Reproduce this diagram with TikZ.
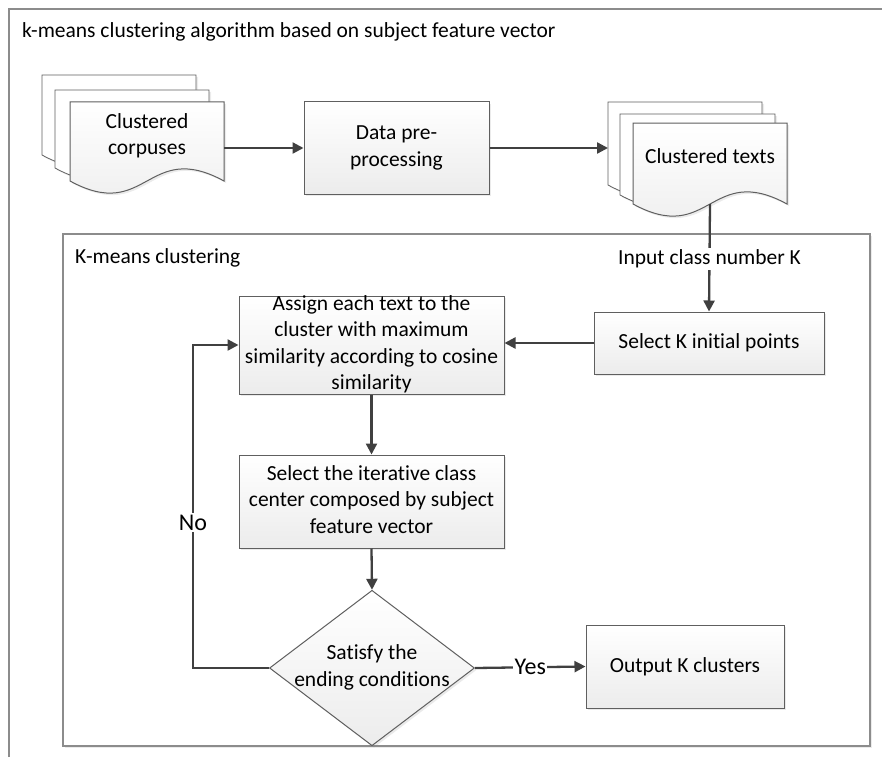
\documentclass[tikz,border=0pt]{standalone}
\usepackage{fontspec}
\setmainfont{Carlito}[Ligatures=NoCommon]
\usetikzlibrary{arrows.meta,shapes.geometric,shadows}

\definecolor{linegray}{HTML}{404040}
\definecolor{edgegray}{HTML}{5F5F5F}
\definecolor{framegray}{HTML}{8C8C8C}
\definecolor{fillbot}{HTML}{ECECEC}

% multi-line text that does not enlarge its node
\newcommand{\boxtext}[1]{\smash{\raisebox{-5pt}{\begin{tabular}{@{}c@{}}#1\end{tabular}}}}
\newcommand{\doctext}[1]{\smash{\begin{tabular}{@{}c@{}}#1\end{tabular}}}
% one sheet of a document stack: x0, top, x1, bottom of the wavy edge, style
\newcommand{\docpage}[5]{%
  \path[#5] (#1,#2) -- (#3,#2) -- (#3,#4)
    .. controls ({(#1+#3)/2},{#4-42}) and ({(#1+#3)/2},{#4+42}) .. (#1,#4) -- cycle;}

\begin{document}
\begin{tikzpicture}[x=1pt,y=-1pt,
  font=\fontsize{21.5}{26.5}\selectfont,
  softshadow/.style={drop shadow={opacity=0.16,shadow xshift=2pt,shadow yshift=-2pt}},
  procbox/.style={rectangle,draw=edgegray,line width=1pt,top color=white,
    bottom color=fillbot,inner sep=0pt,softshadow},
  decision/.style={diamond,draw=edgegray,line width=1pt,top color=white,
    bottom color=fillbot,inner sep=0pt,softshadow},
  backsheet/.style={draw=edgegray,line width=0.8pt,fill=white,softshadow},
  frontsheet/.style={draw=edgegray,line width=1pt,top color=white,
    bottom color=fillbot,softshadow},
  conn/.style={draw=linegray,line width=2.3pt,-{Triangle[length=11pt,width=11pt]}},
  edgelabel/.style={fill=white,inner sep=1.5pt,text=black},
  biglabel/.style={edgelabel,font=\fontsize{24}{28}\selectfont},
]
\useasboundingbox (0,0) rectangle (882,757);

% outer frame and title
\draw[framegray,line width=1.3pt] (9,757) -- (9,9) -- (882,9);
\node[anchor=west,inner sep=0pt] (title) at (22,32)
  {k-means clustering algorithm based on subject feature vector};

% K-means clustering frame
\node[draw=framegray,line width=1.1pt,minimum width=807,minimum height=512,
  inner sep=0pt,fill=white,softshadow] (kmframe) at (466.5,490) {};
\node[anchor=west,inner sep=0pt] (kmlabel) at (75,258) {K-means clustering};

% document stack: clustered corpuses
\docpage{42}{75}{196}{155}{backsheet}
\docpage{55}{90}{209}{168}{backsheet}
\docpage{70}{102}{224}{181}{frontsheet}
\node[minimum width=154,minimum height=79,inner sep=0pt] (corp) at (147,141.5)
  {\doctext{Clustered\\corpuses}};

% document stack: clustered texts
\docpage{608}{102}{762}{185}{backsheet}
\docpage{620}{114}{775}{195}{backsheet}
\docpage{633}{123}{787}{204}{frontsheet}
\node[minimum width=154,minimum height=81,inner sep=0pt] (ctext) at (710,163.5)
  {\doctext{Clustered texts}};
\coordinate (ctextback) at (608,148);

% process steps
\node[procbox,minimum width=185,minimum height=92] (data) at (396.5,148)
  {\boxtext{Data pre-\\processing}};
\node[procbox,minimum width=230,minimum height=62] (selK) at (709,343)
  {Select K initial points};
\node[procbox,minimum width=265,minimum height=98] (assign) at (371.5,345)
  {\boxtext{Assign each text to the\\cluster with maximum\\similarity according to cosine\\similarity}};
\node[procbox,minimum width=265,minimum height=93] (iter) at (371.5,501.5)
  {\boxtext{Select the iterative class\\center composed by subject\\feature vector}};
\node[decision,minimum width=205,minimum height=123] (dia) at (372,668)
  {\boxtext{Satisfy the\\ending conditions}};
\node[procbox,minimum width=198,minimum height=83] (output) at (685,666.5)
  {Output K clusters};

% connectors
\draw[conn] (corp.east |- data.west) -- (data.west);
\draw[conn] (data.east) -- (ctextback);
\draw[conn] (ctext.south) -- node[edgelabel,inner sep=2pt,pos=0.51] (klabel)
  {Input class number K} (selK.north);
\draw[conn] (selK.west) -- (assign.east |- selK.west);
\draw[conn] (assign.south) -- (iter.north);
\draw[conn] (iter.south) -- (dia.north);
\coordinate (noturn) at (193,668);
\draw[conn] (dia.west) -- (noturn)
  -- node[biglabel,pos=0.45] (nolabel) {No} (noturn |- assign.west)
  -- (assign.west);
\draw[conn] (dia.east) -- node[biglabel,pos=0.5] (yeslabel) {Yes} (output.west);
\end{tikzpicture}
\end{document}
